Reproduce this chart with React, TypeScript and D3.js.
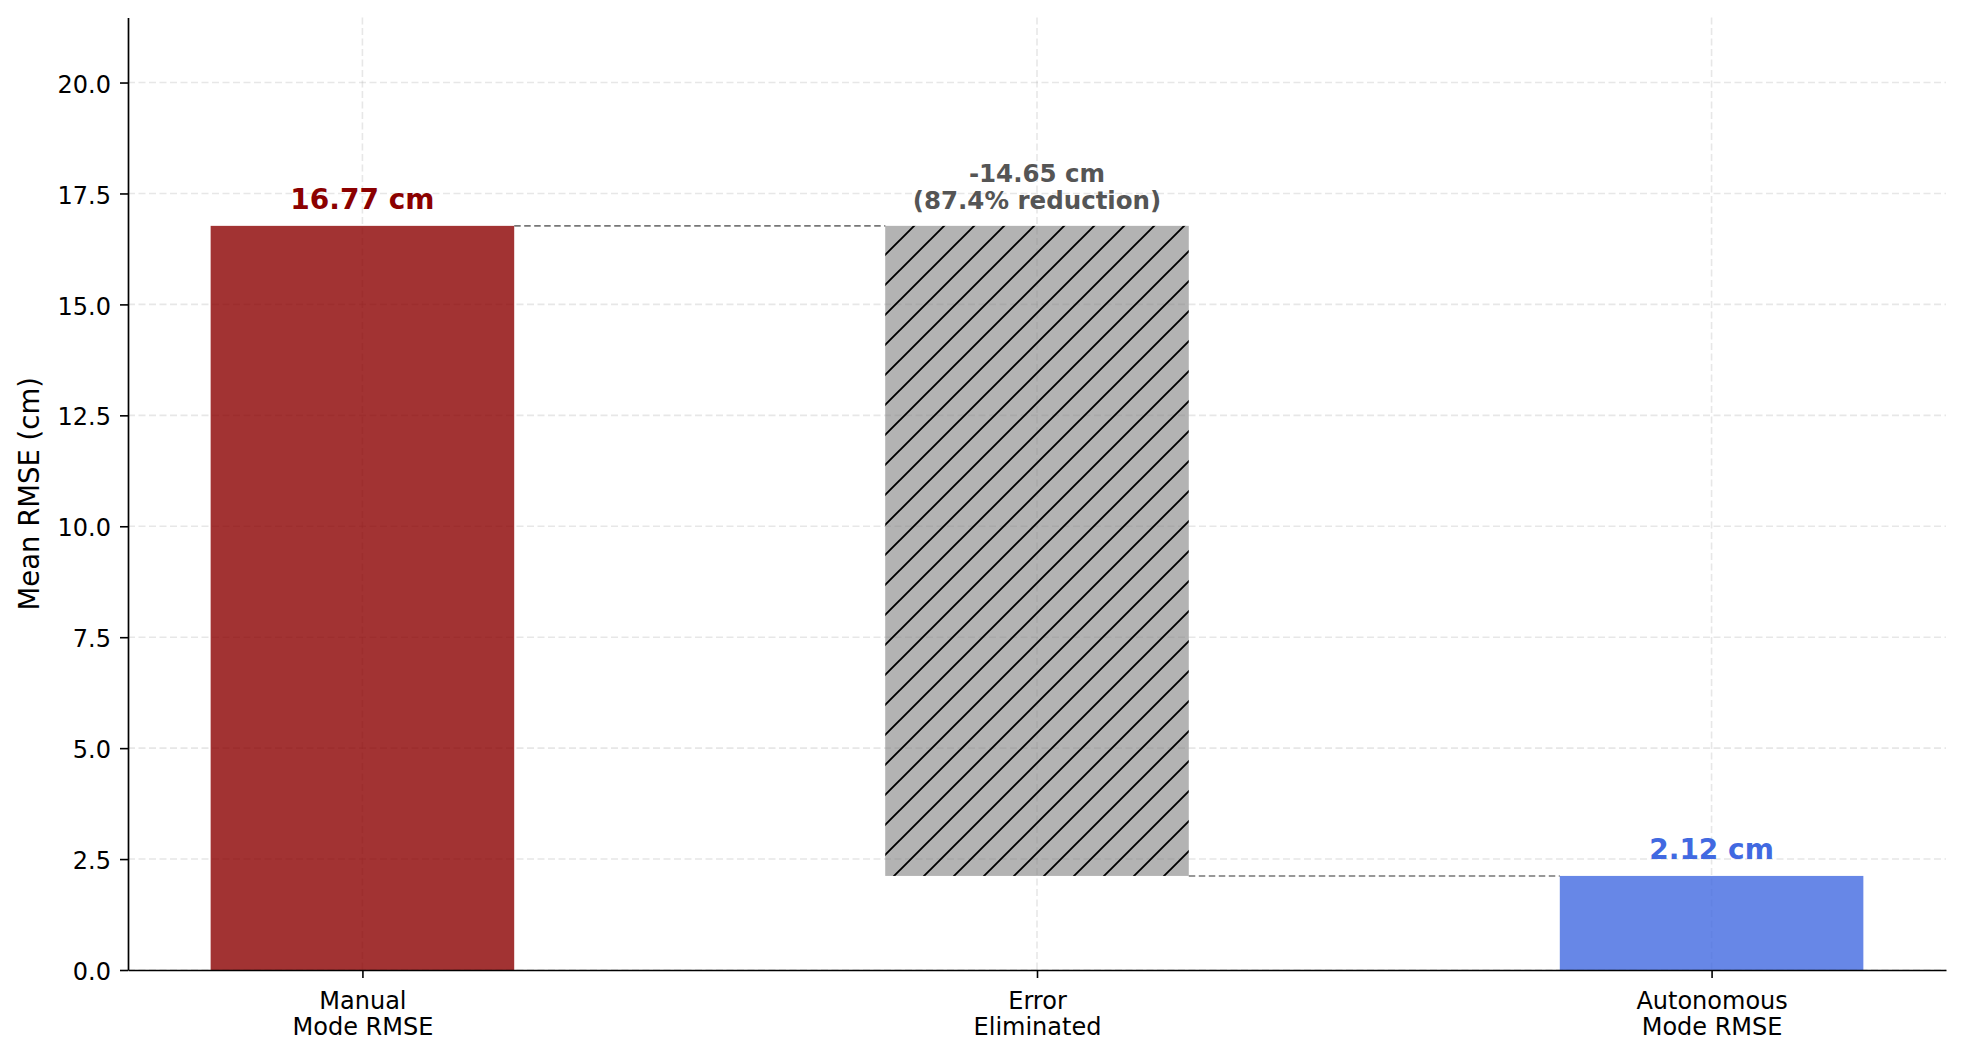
// App.tsx
import { useEffect, useRef } from "react";
import * as d3 from "d3";

// chart data
const categories = ["Manual\nMode RMSE", "Error\nEliminated", "Autonomous\nMode RMSE"];
const barBottoms = [0, 2.12, 0];
const barTops = [16.77, 16.77, 2.12];
const barLabels = ["16.77 cm", "-14.65 cm\n(87.4% reduction)", "2.12 cm"];
const barFills = ["#8b0000", "#808080", "#4169e1"];
const barAlphas = [0.8, 0.6, 0.8];
const labelColors = ["#8b0000", "#555555", "#4169e1"];
const hatched = [false, true, false];
const yTicks = [0, 2.5, 5, 7.5, 10, 12.5, 15, 17.5, 20];
const yLabel = "Mean RMSE (cm)";

function App() {
  const svgRef = useRef<SVGSVGElement | null>(null);
  const width = 1963;
  const height = 1059;
  const left = 128;
  const right = 1946;
  const top = 17.5;
  const bottom = 970;
  const barWidth = 0.45;
  const font = "DejaVu Sans, sans-serif";

  useEffect(() => {
    const svg = d3.select(svgRef.current);
    svg.selectAll("*").remove();

    const maxVal = d3.max(barTops) as number;
    const xScale = d3
      .scaleLinear()
      .domain([-0.5 * barWidth - 0.05 * (2 + barWidth), 2 + 0.5 * barWidth + 0.05 * (2 + barWidth)])
      .range([left, right]);
    const yScale = d3
      .scaleLinear()
      .domain([0, maxVal * 1.28])
      .range([bottom, top]);

    svg.append("rect").attr("width", width).attr("height", height).attr("fill", "white");

    // hatch pattern for the eliminated error bar
    const defs = svg.append("defs");
    const pat = defs
      .append("pattern")
      .attr("id", "hatch")
      .attr("patternUnits", "userSpaceOnUse")
      .attr("width", 30)
      .attr("height", 30);
    pat
      .append("rect")
      .attr("width", 30)
      .attr("height", 30)
      .attr("fill", barFills[1])
      .attr("fill-opacity", barAlphas[1]);
    pat
      .append("path")
      .attr("d", "M0,30 L30,0 M-7.5,7.5 L7.5,-7.5 M22.5,37.5 L37.5,22.5")
      .attr("stroke", "black")
      .attr("stroke-width", 1.9);

    // grid (under the semi-transparent bars)
    const grid = svg.append("g");
    yTicks.forEach((t) => {
      grid
        .append("line")
        .attr("x1", left)
        .attr("x2", right)
        .attr("y1", yScale(t))
        .attr("y2", yScale(t))
        .attr("stroke", "#b0b0b0")
        .attr("stroke-opacity", 0.3)
        .attr("stroke-width", 1.6)
        .attr("stroke-dasharray", "7,3.5");
    });
    categories.forEach((c, i) => {
      grid
        .append("line")
        .attr("x1", xScale(i))
        .attr("x2", xScale(i))
        .attr("y1", top)
        .attr("y2", bottom)
        .attr("stroke", "#b0b0b0")
        .attr("stroke-opacity", 0.3)
        .attr("stroke-width", 1.6)
        .attr("stroke-dasharray", "7,3.5");
    });

    // bars
    categories.forEach((c, i) => {
      svg
        .append("rect")
        .attr("x", xScale(i - barWidth / 2))
        .attr("width", xScale(i + barWidth / 2) - xScale(i - barWidth / 2))
        .attr("y", yScale(barTops[i]))
        .attr("height", yScale(barBottoms[i]) - yScale(barTops[i]))
        .attr("fill", hatched[i] ? "url(#hatch)" : barFills[i])
        .attr("fill-opacity", hatched[i] ? 1 : barAlphas[i]);
    });

    // connector lines between bars
    for (let i = 0; i < categories.length - 1; i = i + 1) {
      const level = i == 0 ? barTops[i] : barBottoms[i];
      svg
        .append("line")
        .attr("x1", xScale(i + barWidth / 2))
        .attr("x2", xScale(i + 1 - barWidth / 2))
        .attr("y1", yScale(level))
        .attr("y2", yScale(level))
        .attr("stroke", "#777777")
        .attr("stroke-width", 1.6)
        .attr("stroke-dasharray", "6.5,3.5");
    }

    // value labels
    categories.forEach((c, i) => {
      const lines = barLabels[i].split("\n");
      const big = lines.length == 1;
      const text = svg
        .append("text")
        .attr("text-anchor", "middle")
        .attr("font-family", font)
        .attr("font-weight", "bold")
        .attr("font-size", big ? 28 : 24.5)
        .attr("fill", labelColors[i]);
      const baseY = yScale(barTops[i]) - 17 - (lines.length - 1) * 26.5;
      lines.forEach((l, k) => {
        text
          .append("tspan")
          .attr("x", xScale(i))
          .attr("y", baseY + k * 26.5)
          .text(l);
      });
    });

    // axes
    const yAxis = d3
      .axisLeft(yScale)
      .tickValues(yTicks)
      .tickFormat(d3.format(".1f") as any)
      .tickSize(8)
      .tickSizeOuter(0)
      .tickPadding(9);
    const gy = svg.append("g").attr("transform", `translate(${left},0)`).call(yAxis);
    gy.select(".domain").attr("stroke-width", 1.7);
    gy.selectAll(".tick line").attr("stroke-width", 1.6);
    gy.selectAll(".tick text")
      .attr("font-family", font)
      .attr("font-size", 24)
      .attr("fill", "black")
      .attr("dy", "0.4em");

    const xAxis = d3
      .axisBottom(xScale)
      .tickValues([0, 1, 2])
      .tickFormat(() => "")
      .tickSize(8)
      .tickSizeOuter(0);
    const gx = svg.append("g").attr("transform", `translate(0,${bottom})`).call(xAxis);
    gx.select(".domain").attr("stroke-width", 1.7);
    gx.selectAll(".tick line").attr("stroke-width", 1.6);
    gx.selectAll<SVGTextElement, number>(".tick text").each(function (d) {
      const t = d3
        .select(this)
        .attr("font-family", font)
        .attr("font-size", 24)
        .attr("fill", "black")
        .attr("dy", null)
        .attr("y", null);
      categories[d].split("\n").forEach((l, k) => {
        t.append("tspan")
          .attr("x", 0)
          .attr("y", 38.5 + k * 26.7)
          .text(l);
      });
    });

    // y label
    svg
      .append("text")
      .attr("transform", `translate(39,${(top + bottom) / 2}) rotate(-90)`)
      .attr("text-anchor", "middle")
      .attr("font-family", font)
      .attr("font-size", 27.5)
      .attr("fill", "black")
      .text(yLabel);
  }, []);

  return (
    <svg
      ref={svgRef}
      width={width}
      height={height}
      style={{ position: "absolute", left: 0, top: 0 }}
    ></svg>
  );
}

export default App;
